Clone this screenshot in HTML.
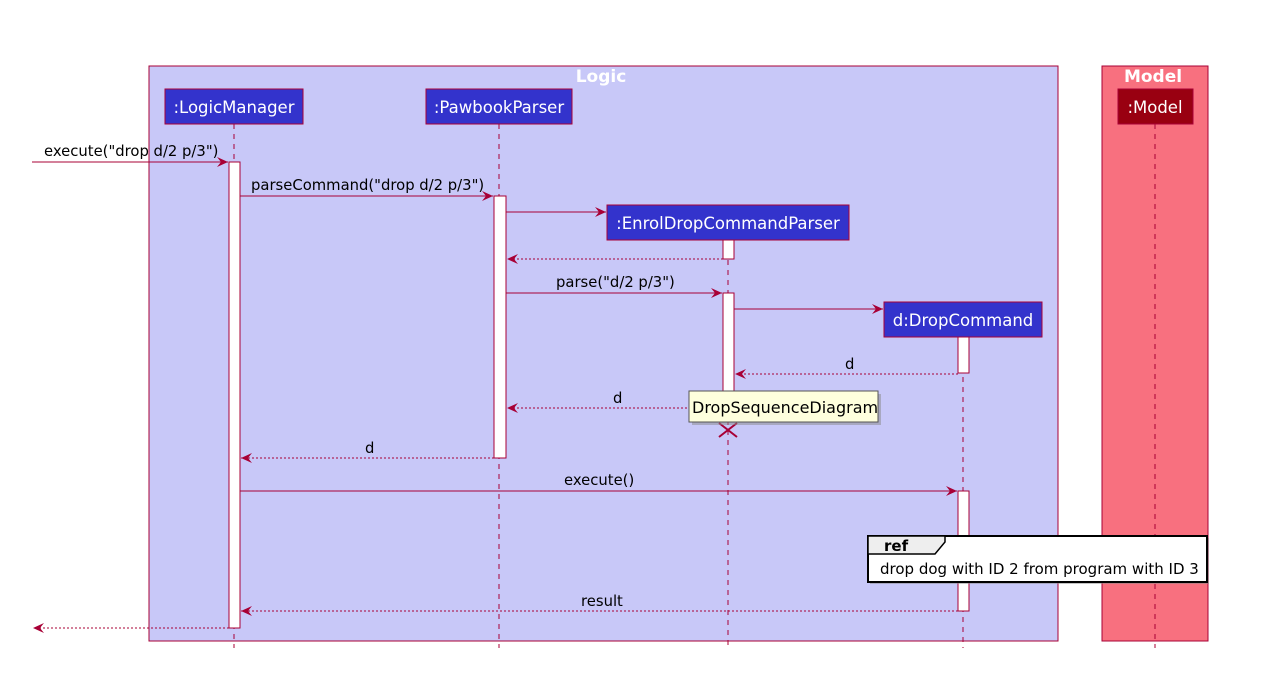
<!DOCTYPE html>
<html><head><style>body{margin:0;background:#fff}svg{display:block}text{font-family:"DejaVu Sans","Liberation Sans",sans-serif}</style></head><body>
<svg width="1270" height="686" xmlns="http://www.w3.org/2000/svg">
<defs>
<marker id="a" markerWidth="12" markerHeight="10" refX="11" refY="5" orient="auto" markerUnits="userSpaceOnUse"><path d="M0,0 L11,5 L0,10 L4,5 Z" fill="#A80036"/></marker>
</defs>
<rect x="149" y="66" width="909" height="575" fill="#C8C8F8" stroke="#A80036"/>
<rect x="1102" y="66" width="106" height="575" fill="#F8707F" stroke="#A80036"/>
<text x="601" y="82" fill="#fff" font-weight="bold" font-size="17" text-anchor="middle">Logic</text>
<text x="1153" y="82" fill="#fff" font-weight="bold" font-size="17" text-anchor="middle">Model</text>
<g stroke="#A80036" stroke-dasharray="5,5" stroke-width="1">
<line x1="234" y1="124" x2="234" y2="648"/><line x1="499" y1="124" x2="499" y2="648"/>
<line x1="728" y1="240" x2="728" y2="648"/><line x1="963" y1="337" x2="963" y2="648"/>
<line x1="1155" y1="124" x2="1155" y2="648"/></g>
<g stroke="#A80036" fill="#3333CC">
<rect x="165" y="89" width="138" height="35"/><rect x="426" y="89" width="146" height="35"/>
<rect x="607" y="205" width="242" height="35"/><rect x="884" y="302" width="158" height="35"/>
<rect x="1118" y="89" width="75" height="35" fill="#990011"/></g>
<g fill="#fff" font-size="16.5" text-anchor="middle">
<text x="234" y="113">:LogicManager</text><text x="499" y="113">:PawbookParser</text>
<text x="728" y="229">:EnrolDropCommandParser</text><text x="963" y="326">d:DropCommand</text>
<text x="1155" y="113">:Model</text></g>
<g fill="#fff" stroke="#A80036">
<rect x="229" y="162" width="11" height="466"/><rect x="494" y="196" width="12" height="262"/>
<rect x="723" y="240" width="11" height="19"/><rect x="723" y="293" width="11" height="115"/>
<rect x="958" y="337" width="11" height="36"/><rect x="958" y="491" width="11" height="120"/></g>
<g stroke="#A80036" fill="none">
<line x1="32" y1="162" x2="228" y2="162" marker-end="url(#a)"/>
<line x1="240" y1="196" x2="493" y2="196" marker-end="url(#a)"/>
<line x1="506" y1="212" x2="606" y2="212" marker-end="url(#a)"/>
<line x1="506" y1="293" x2="722" y2="293" marker-end="url(#a)"/>
<line x1="734" y1="309" x2="883" y2="309" marker-end="url(#a)"/>
<line x1="240" y1="491" x2="957" y2="491" marker-end="url(#a)"/>
<g stroke-dasharray="2,2">
<line x1="723" y1="259" x2="507" y2="259" marker-end="url(#a)"/>
<line x1="958" y1="374" x2="735" y2="374" marker-end="url(#a)"/>
<line x1="723" y1="408" x2="507" y2="408" marker-end="url(#a)"/>
<line x1="494" y1="458" x2="241" y2="458" marker-end="url(#a)"/>
<line x1="958" y1="611" x2="241" y2="611" marker-end="url(#a)"/>
<line x1="229" y1="628" x2="33" y2="628" marker-end="url(#a)"/></g>
<path d="M719,423 L737,437 M737,423 L719,437" stroke-width="2"/></g>
<g font-size="14.8" fill="#000">
<text x="44" y="156">execute("drop d/2 p/3")</text>
<text x="251" y="190">parseCommand("drop d/2 p/3")</text>
<text x="556" y="287">parse("d/2 p/3")</text>
<text x="845" y="369">d</text><text x="613" y="403">d</text><text x="365" y="453">d</text>
<text x="564" y="485">execute()</text><text x="581" y="606">result</text></g>
<rect x="692" y="394" width="189" height="31" fill="#888" opacity="0.5"/>
<rect x="689" y="391" width="189" height="31" fill="#FEFFDD" stroke="#555"/>
<text x="692" y="413" font-size="16">DropSequenceDiagram</text>
<rect x="870" y="538" width="339" height="46" fill="#888" opacity="0.5"/>
<rect x="868" y="536" width="339" height="46" fill="#fff" stroke="#000" stroke-width="2"/>
<path d="M868,536 L945,536 L945,542 L935,554 L868,554 Z" fill="#EEE" stroke="#000" stroke-width="1.5"/>
<text x="884" y="551" font-size="15" font-weight="bold">ref</text>
<text x="880" y="574" font-size="15">drop dog with ID 2 from program with ID 3</text>
</svg>
</body></html>
